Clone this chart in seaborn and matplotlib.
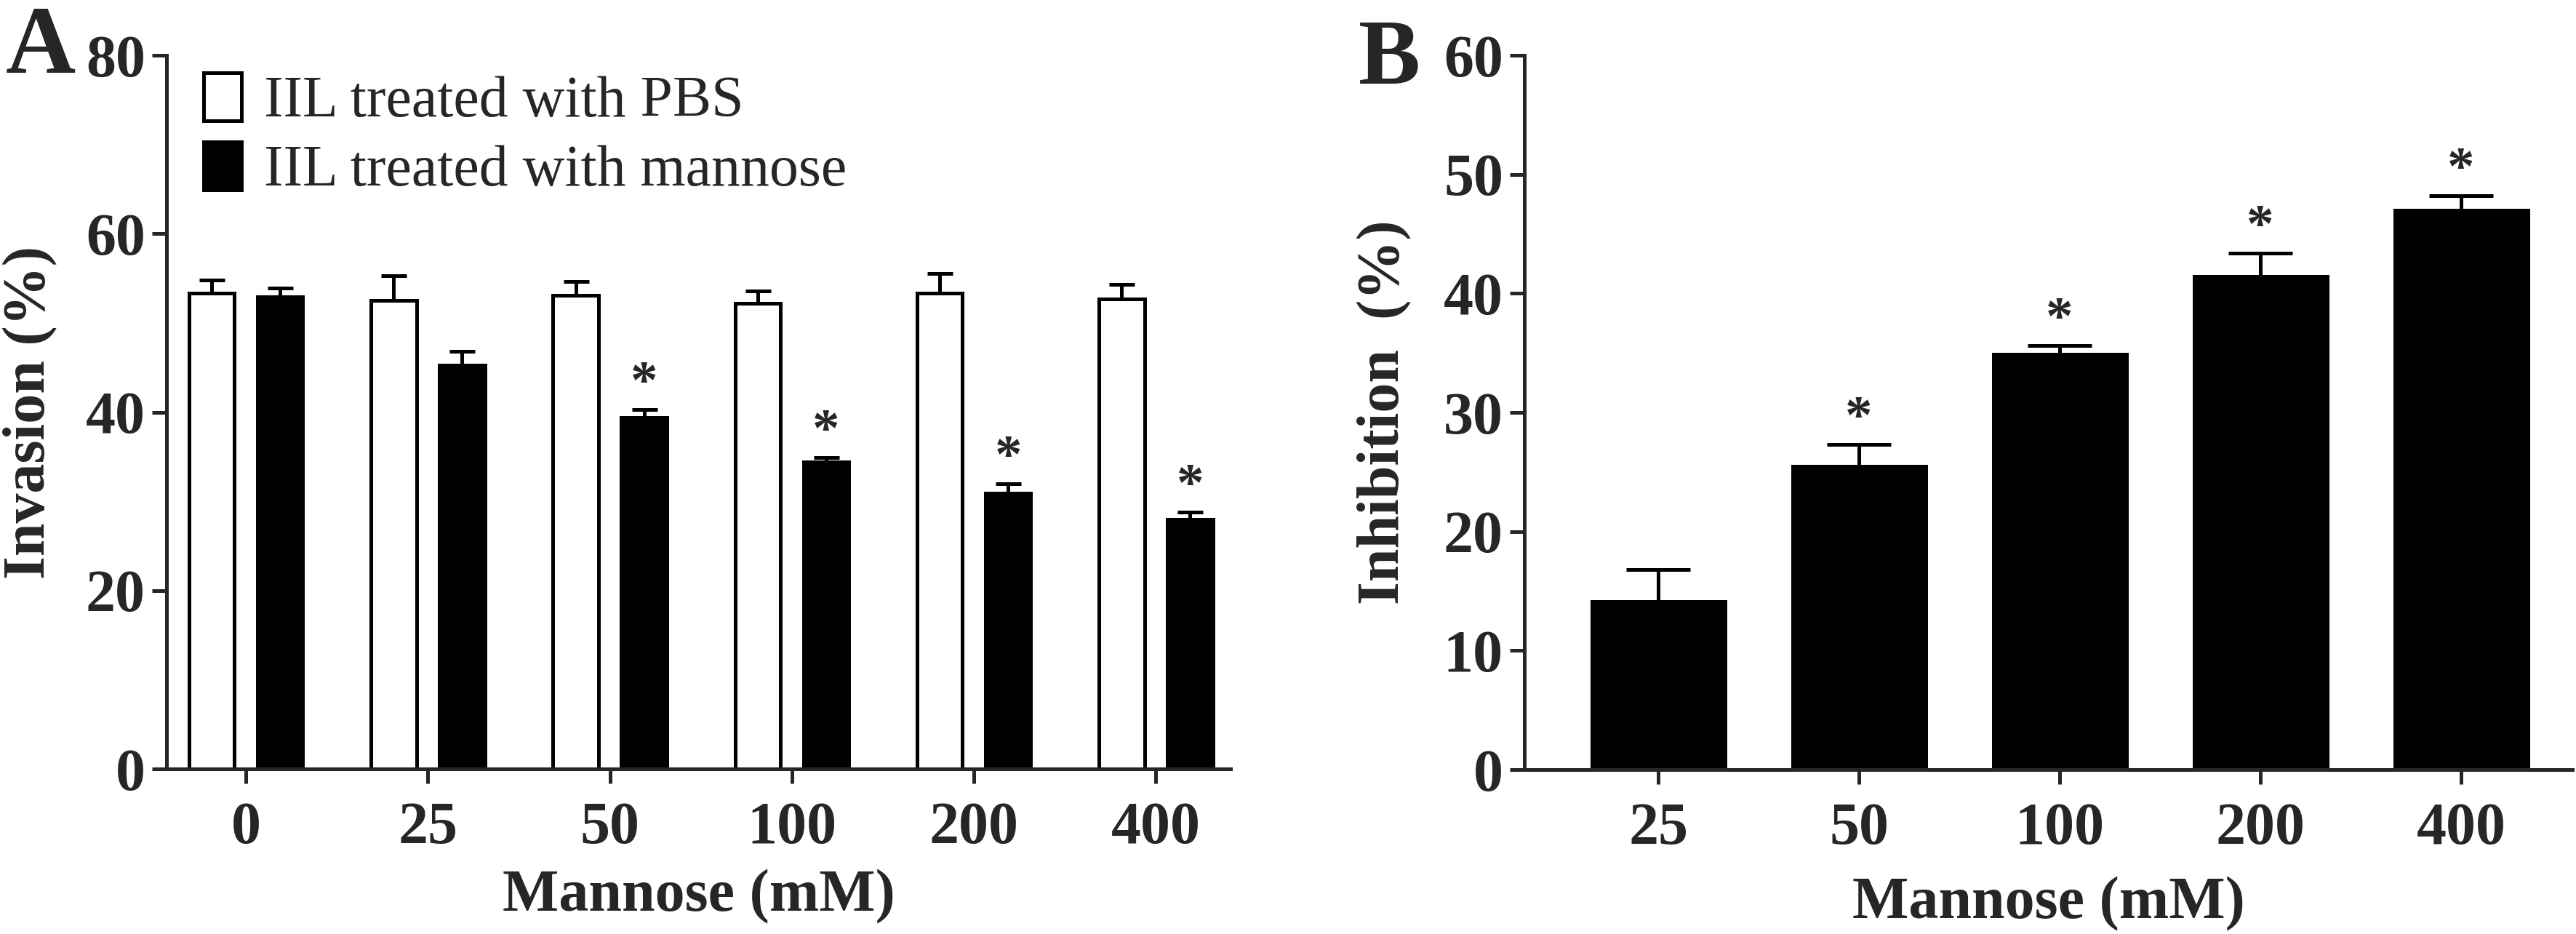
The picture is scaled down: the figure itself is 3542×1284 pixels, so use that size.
import numpy as np
import pandas as pd
import matplotlib
matplotlib.use('Agg')
import matplotlib.pyplot as plt
import seaborn as sns
from matplotlib.patches import Patch

# panel A: invasion (%) by mannose concentration
conc_a = ['0', '25', '50', '100', '200', '400']
pbs_mean = [53.3, 52.5, 53.1, 52.2, 53.3, 52.7]
pbs_err = [1.5, 2.8, 1.5, 1.4, 2.2, 1.6]
man_mean = [52.9, 45.3, 39.4, 34.4, 30.9, 28.0]
man_err = [1.0, 1.5, 0.9, 0.5, 1.1, 0.8]
man_sig = [False, False, True, True, True, True]
group_labels = ['IIL treated with PBS', 'IIL treated with mannose']

# panel B: inhibition (%)
conc_b = ['25', '50', '100', '200', '400']
inh_mean = [14.1, 25.5, 34.9, 41.4, 47.0]
inh_err = [2.7, 1.8, 0.7, 2.0, 1.2]
inh_sig = [False, True, True, True, True]

W, H = 3542, 1284
LW = 3.6
FS = 59

sns.set_style('ticks')
plt.rcParams['font.family'] = ['Liberation Serif', 'DejaVu Serif']
plt.rcParams['font.weight'] = 'bold'
plt.rcParams['axes.labelweight'] = 'bold'

fig = plt.figure(figsize=(W / 100, H / 100), dpi=100)
axA = fig.add_axes([229 / W, 1 - 1057 / H, (1692 - 229) / W, (1057 - 76) / H])
axB = fig.add_axes([2096 / W, 1 - 1058 / H, (3537 - 2096) / W, (1058 - 76) / H])

df_a = pd.DataFrame({
    'conc': conc_a * 2,
    'invasion': pbs_mean + man_mean,
    'group': [group_labels[0]] * len(conc_a) + [group_labels[1]] * len(conc_a),
})
sns.barplot(data=df_a, x='conc', y='invasion', hue='group', order=conc_a,
            hue_order=group_labels, palette=['white', 'black'], saturation=1,
            edgecolor='black', linewidth=LW, width=0.752, gap=0.335,
            errorbar=None, legend=False, ax=axA)

sns.barplot(x=conc_b, y=inh_mean, order=conc_b, color='black', saturation=1,
            edgecolor='black', linewidth=LW, width=0.663, errorbar=None, ax=axB)


def add_errors(ax, container, errs, sig, capsize):
    xs = [b.get_x() + b.get_width() / 2 for b in container]
    hs = [b.get_height() for b in container]
    ax.errorbar(xs, hs, yerr=[np.zeros(len(errs)), errs], fmt='none',
                ecolor='black', elinewidth=LW, capsize=capsize, capthick=LW,
                zorder=3)
    for x, h, e, s in zip(xs, hs, errs, sig):
        if s:
            ax.annotate('*', xy=(x, h + e), xytext=(0, 0), textcoords='offset points',
                        ha='center', va='bottom', fontsize=54, fontweight='bold')


add_errors(axA, axA.containers[0], pbs_err, [False] * len(conc_a), 12.6)
add_errors(axA, axA.containers[1], man_err, man_sig, 12.6)
add_errors(axB, axB.containers[0], inh_err, inh_sig, 32)

axA.set_xlim(-0.436, 5.41)
axA.set_ylim(0, 80)
axA.set_yticks([0, 20, 40, 60, 80])
axB.set_xlim(-0.667, 4.554)
axB.set_ylim(0, 60)
axB.set_yticks([0, 10, 20, 30, 40, 50, 60])

for ax in (axA, axB):
    sns.despine(ax=ax)
    for sp in ('left', 'bottom'):
        ax.spines[sp].set_linewidth(LW)
    ax.tick_params(axis='both', length=14.4, width=LW, labelsize=FS, direction='out')
    ax.tick_params(axis='x', pad=18)
    ax.tick_params(axis='y', pad=6.5)

axA.set_xlabel('Mannose (mM)', fontsize=FS, labelpad=13)
axB.set_xlabel('Mannose (mM)', fontsize=FS, labelpad=20)
axA.set_ylabel('Invasion (%)', fontsize=FS, labelpad=28)
axB.set_ylabel('Inhibition  (%)', fontsize=FS, labelpad=31)

handles = [Patch(facecolor='white', edgecolor='black', linewidth=LW),
           Patch(facecolor='black', edgecolor='black', linewidth=LW)]
axA.legend(handles=handles, labels=group_labels, loc='upper left',
           bbox_to_anchor=(280 / W, 1 - 100 / H), bbox_transform=fig.transFigure,
           frameon=False, borderpad=0, borderaxespad=0, handlelength=0.65,
           handleheight=0.89, handletextpad=0.39, labelspacing=0.22,
           prop={'family': ['Liberation Serif'], 'weight': 'normal', 'size': 57.5})

fig.text(8 / W, 1 - 7 / H, 'A', fontsize=96, fontweight='bold', ha='left', va='top')
fig.text(1868 / W, 1 - 27 / H, 'B', fontsize=92, fontweight='bold', ha='left', va='top')

fig.savefig('out.png', dpi=100)
